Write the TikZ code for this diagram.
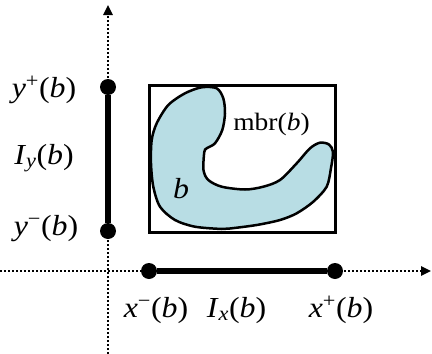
\documentclass[tikz,border=0pt]{standalone}
\usepackage{fontspec}
\setmainfont{Liberation Serif}
\newfontfamily\lblfont[FakeStretch=1.1]{Liberation Serif}
\usetikzlibrary{arrows.meta}
\definecolor{blobfill}{RGB}{184,221,228}
\tikzset{
  axisline/.style={line width=2.4pt, dash pattern=on 2pt off 2pt, -{Triangle[length=10pt,width=9pt]}},
  interval/.style={line width=5.5pt},
  enddot/.style={circle, fill=black, inner sep=0pt, minimum size=16pt},
  lbl/.style={inner sep=0pt, anchor=base, font=\lblfont\fontsize{29}{31}\selectfont},
}
\begin{document}
\begin{tikzpicture}[x=1pt,y=-1pt]
\useasboundingbox (0,0) rectangle (432,354);
% axes
\coordinate (ybot) at (108,354);
\coordinate (ytop) at (108,5);
\coordinate (xleft) at (0,271);
\coordinate (xright) at (431,271);
\draw[axisline] (ybot) -- (ytop);
\draw[axisline] (xleft) -- (xright);
% blob
\draw[line width=2.5pt, fill=blobfill, line join=round] plot[smooth cycle, tension=0.5] coordinates {
 (185,93.3) (201.7,87.3) (216.7,88.3) (223.3,98.3) (225,113.3) (222.3,130) (215,143.3)
 (206.7,148.3) (204.3,152) (203.5,170) (208.3,180) (221.7,186.7) (245,189.5) (263.3,186.7)
 (280,180) (296.7,163.3) (310,148.3) (320,142.7) (329,144.5) (333,152) (331,168)
 (326.7,186.7) (313.3,201.7) (296.7,213.3) (280,220) (256.7,225) (230,228.5) (221.7,229)
 (195,226.7) (175,220) (160,206.7) (153.3,186.7) (151,163.3) (151.7,140) (156.7,123.3) (168.3,105)};
% mbr
\node[draw, line width=3pt, minimum width=186pt, minimum height=147pt, inner sep=0pt] (mbr) at (242,158.5) {};
% intervals
\node[enddot] (yp) at (108,87) {};
\node[enddot] (ym) at (108,231) {};
\node[enddot] (xm) at (149,271) {};
\node[enddot] (xp) at (335,271) {};
\draw[interval] (yp) -- (ym);
\draw[interval] (xm) -- (xp);
% labels
\node[lbl] (lyp) at (44,97) {\textit{y}\textsuperscript{+}(\textit{b})};
\node[lbl] (liy) at (44,164) {\textit{I}\textsubscript{\textit{y}}(\textit{b})};
\node[lbl] (lym) at (46,235) {\textit{y}\textsuperscript{−}(\textit{b})};
\node[lbl] (lxm) at (156,317) {\textit{x}\textsuperscript{−}(\textit{b})};
\node[lbl] (lix) at (236.5,317) {\textit{I}\textsubscript{\textit{x}}(\textit{b})};
\node[lbl] (lxp) at (341,317) {\textit{x}\textsuperscript{+}(\textit{b})};
\node[lbl, font=\lblfont\fontsize{25}{28}\selectfont] (lmbr) at (271.5,130) {mbr(\textit{b})};
\node[lbl] (lb) at (181,198) {\textit{b}};
\end{tikzpicture}
\end{document}
